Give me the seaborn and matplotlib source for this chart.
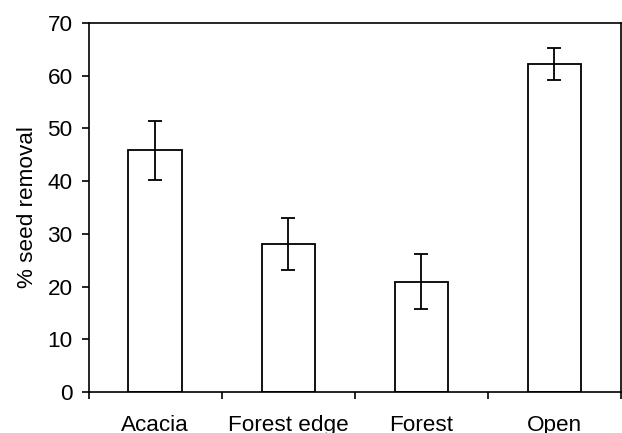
import matplotlib
matplotlib.use("Agg")
import matplotlib.pyplot as plt
import seaborn as sns
import numpy as np

categories = ["Acacia", "Forest edge", "Forest", "Open"]
removal = [45.9, 28.1, 20.9, 62.2]
errors = [5.6, 5.0, 5.2, 3.1]
yticks = [0, 10, 20, 30, 40, 50, 60, 70]

sns.set_style("ticks")
plt.rcParams["font.family"] = ["Liberation Sans", "DejaVu Sans"]
plt.rcParams["text.color"] = "black"
plt.rcParams["axes.labelcolor"] = "black"
plt.rcParams["xtick.color"] = "black"
plt.rcParams["ytick.color"] = "black"

fig = plt.figure(figsize=(6.22, 4.33), dpi=100)
ax = fig.add_axes([88.5 / 622, 1 - 392 / 433, (621 - 88.5) / 622, (392 - 23) / 433])

sns.barplot(x=categories, y=removal, color="white", edgecolor="black",
            linewidth=1.3, width=0.4, errorbar=None, ax=ax, saturation=1)
ax.errorbar(np.arange(len(categories)), removal, yerr=errors, fmt="none",
            ecolor="black", elinewidth=1.3, capsize=4.7, capthick=1.3)

ax.set_xlim(-0.5, len(categories) - 0.5)
ax.set_ylim(0, 70)
ax.set_yticks(yticks)
ax.set_yticklabels([str(v) for v in yticks])

ax.set_xticks(np.arange(len(categories) + 1) - 0.5)
ax.set_xticklabels([""] * (len(categories) + 1))
ax.set_xticks(np.arange(len(categories)), minor=True)
ax.set_xticklabels(categories, minor=True)
ax.tick_params(axis="x", which="minor", length=0, pad=16.5, labelsize=16.2, labelcolor="black")
ax.tick_params(axis="x", which="major", length=4.8, width=1.2, direction="out", color="black")
ax.tick_params(axis="y", length=4.8, width=1.2, direction="out", pad=6.5, labelsize=16.2,
               color="black", labelcolor="black")

for s in ax.spines.values():
    s.set_visible(True)
    s.set_linewidth(1.2)
    s.set_color("black")

ax.set_xlabel("")
ax.set_ylabel("% seed removal", fontsize=16.2, labelpad=7, color="black")

fig.savefig("out.png", dpi=100)
